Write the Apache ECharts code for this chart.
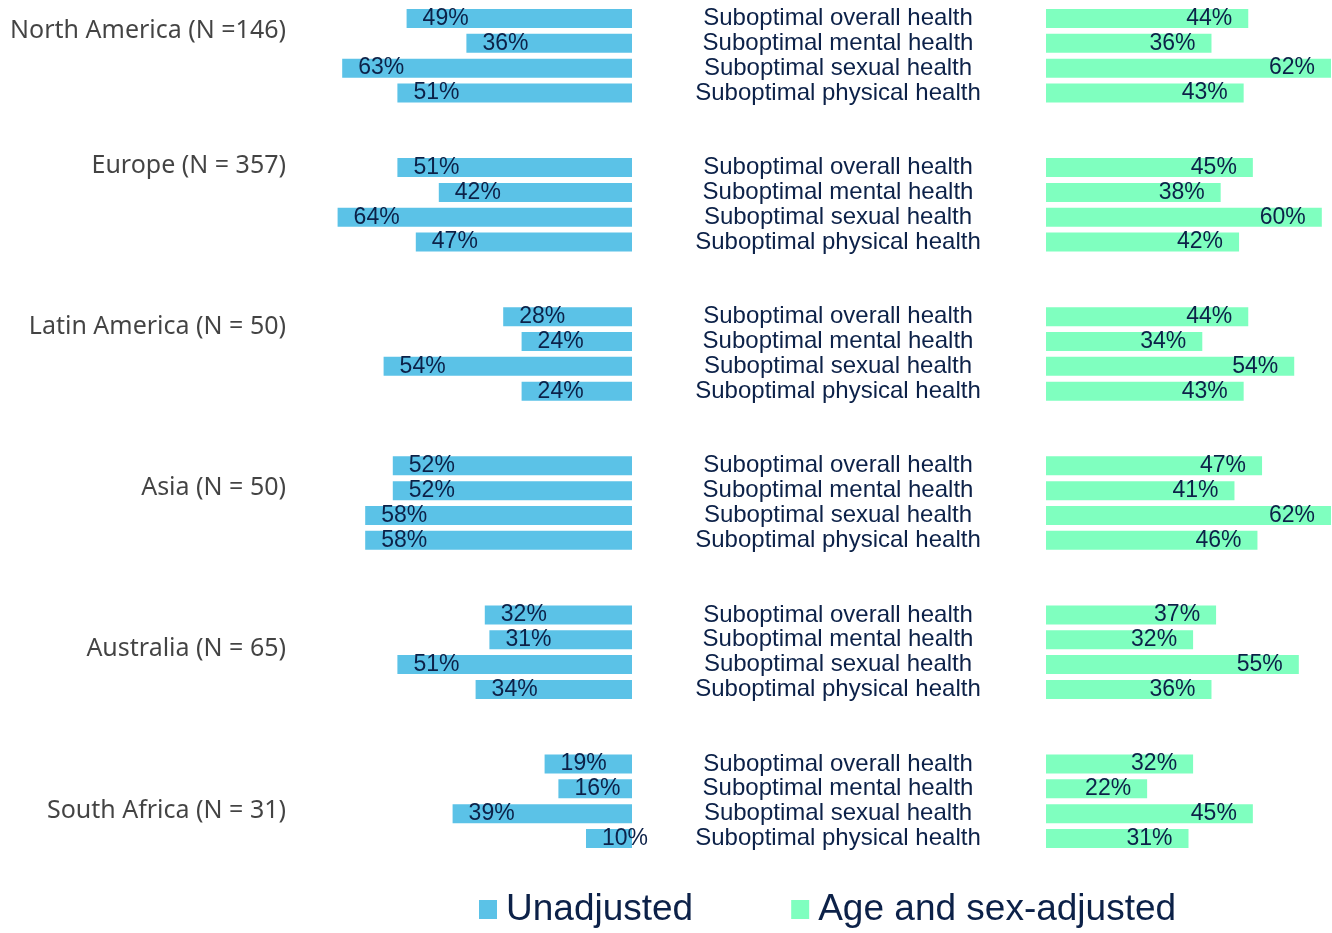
<!DOCTYPE html>
<html>
<head>
<meta charset="utf-8">
<script src="https://cdn.jsdelivr.net/npm/echarts@6/dist/echarts.min.js"></script>
<style>
  html, body { margin: 0; padding: 0; background: #fff; }
  #chart { width: 1332px; height: 933px; }
</style>
</head>
<body>
<div id="chart"></div>
<script>
const groups = ['North America (N =146)', 'Europe (N = 357)', 'Latin America (N = 50)', 'Asia (N = 50)', 'Australia (N = 65)', 'South Africa (N = 31)']
const measures = ['Suboptimal overall health', 'Suboptimal mental health', 'Suboptimal sexual health', 'Suboptimal physical health']
const unadjusted = [
  [49, 36, 63, 51],
  [51, 42, 64, 47],
  [28, 24, 54, 24],
  [52, 52, 58, 58],
  [32, 31, 51, 34],
  [19, 16, 39, 10],
]
const adjusted = [
  [44, 36, 62, 43],
  [45, 38, 60, 42],
  [44, 34, 54, 43],
  [47, 41, 62, 46],
  [37, 32, 55, 36],
  [32, 22, 45, 31],
]
// row (in category units) where each region name sits
const groupLabelRows = [0.5, 5.95, 12.4, 18.9, 25.35, 31.9]

const NAVY = '#0c2148'
const BLUE = '#5bc2e7'
const GREEN = '#7fffbf'

// flatten into rows, two empty rows between regions
const rowLabels = []
const leftData = []
const rightData = []
groups.forEach((g, gi) => {
  measures.forEach((m, mi) => {
    rowLabels.push(m)
    leftData.push(unadjusted[gi][mi])
    rightData.push(adjusted[gi][mi])
  })
  if (gi < groups.length - 1) {
    for (let k = 0; k < 2; k++) {
      rowLabels.push('')
      leftData.push('-')
      rightData.push('-')
    }
  }
})
const rowKeys = rowLabels.map((_, i) => 'r' + i)

const gridTop = 6
const gridHeight = 845

const chart = echarts.init(document.getElementById('chart'), null, { renderer: 'canvas' })
chart.setOption({
  animation: false,
  legend: {
    data: ['Unadjusted', 'Age and sex-adjusted'],
    left: 474,
    top: 886,
    icon: 'rect',
    itemWidth: 18,
    itemHeight: 19,
    itemGap: 98,
    textStyle: {
      fontFamily: 'Liberation Sans, Arial, sans-serif',
      fontSize: 37,
      color: NAVY,
      padding: [0, 0, 0, 4],
    },
  },
  grid: [
    { left: 310, width: 322, top: gridTop, height: gridHeight },
    { left: 1046, width: 285, top: gridTop, height: gridHeight },
    { left: 0, width: 286, top: gridTop, height: gridHeight },
  ],
  xAxis: [
    { gridIndex: 0, type: 'value', inverse: true, min: 0, max: 70, show: false },
    { gridIndex: 1, type: 'value', min: 0, max: 62, show: false },
    { gridIndex: 2, type: 'value', min: 0, max: 1, show: false },
  ],
  yAxis: [
    {
      gridIndex: 0, type: 'category', inverse: true, data: rowKeys,
      axisLine: { show: false }, axisTick: { show: false }, axisLabel: { show: false },
    },
    {
      gridIndex: 1, type: 'category', inverse: true, data: rowKeys, position: 'left',
      axisLine: { show: false }, axisTick: { show: false },
      axisLabel: {
        interval: 0,
        align: 'center',
        margin: 208,
        fontFamily: 'Liberation Sans, Arial, sans-serif',
        fontSize: 24,
        color: NAVY,
        formatter: (v, i) => rowLabels[i],
      },
    },
    { gridIndex: 2, type: 'value', inverse: true, min: -0.5, max: 33.5, show: false },
  ],
  series: [
    {
      name: 'Unadjusted',
      type: 'bar',
      xAxisIndex: 0,
      yAxisIndex: 0,
      data: leftData,
      barWidth: 19,
      itemStyle: { color: BLUE },
      label: {
        show: true,
        position: 'insideLeft',
        distance: 16,
        formatter: '{c}%',
        fontFamily: 'Liberation Sans, Arial, sans-serif',
        fontSize: 23,
        color: NAVY,
      },
    },
    {
      name: 'Age and sex-adjusted',
      type: 'bar',
      xAxisIndex: 1,
      yAxisIndex: 1,
      data: rightData,
      barWidth: 19,
      itemStyle: { color: GREEN },
      label: {
        show: true,
        position: 'insideRight',
        distance: 16,
        formatter: '{c}%',
        fontFamily: 'Liberation Sans, Arial, sans-serif',
        fontSize: 23,
        color: NAVY,
      },
    },
    {
      type: 'scatter',
      xAxisIndex: 2,
      yAxisIndex: 2,
      symbolSize: 0,
      silent: true,
      data: groups.map((g, i) => ({ name: g, value: [1, groupLabelRows[i]] })),
      label: {
        show: true,
        position: 'left',
        distance: 0,
        formatter: p => p.name,
        fontFamily: 'Noto Sans, Open Sans, sans-serif',
        fontSize: 25,
        color: '#141414',
      },
    },
  ],
})
</script>
</body>
</html>
